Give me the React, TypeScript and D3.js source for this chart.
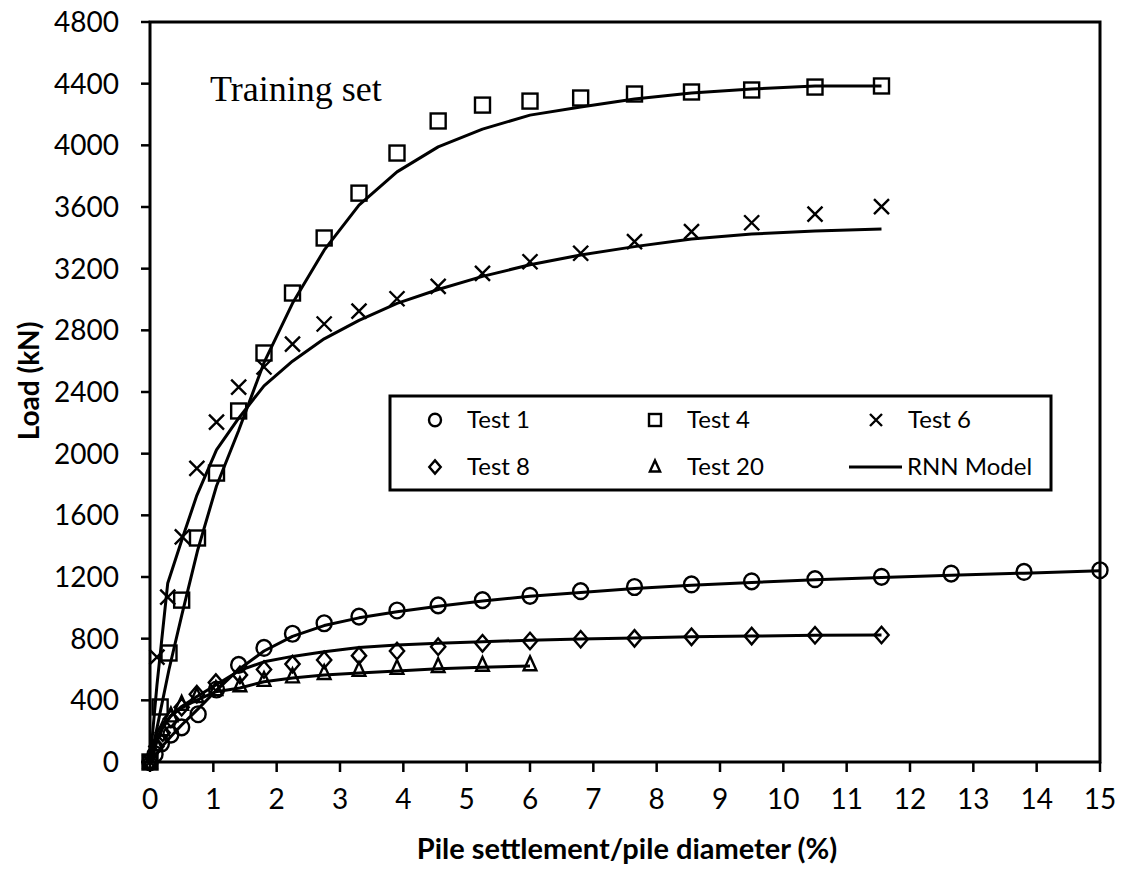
import React from "react";
import * as d3 from "d3";

const xTicks = [0, 1, 2, 3, 4, 5, 6, 7, 8, 9, 10, 11, 12, 13, 14, 15];
const yTicks = [0, 400, 800, 1200, 1600, 2000, 2400, 2800, 3200, 3600, 4000, 4400, 4800];

const test1X = [0, 0.08, 0.18, 0.33, 0.5, 0.76, 1.05, 1.4, 1.8, 2.25, 2.75, 3.3, 3.9, 4.55, 5.25, 6.0, 6.8, 7.65, 8.55, 9.5, 10.5, 11.55, 12.65, 13.8, 15];
const test1Load = [0, 50, 120, 178, 225, 310, 470, 630, 740, 832, 900, 943, 983, 1016, 1050, 1078, 1108, 1135, 1152, 1172, 1186, 1201, 1222, 1233, 1244];
const test1Model = [0, 40, 95, 165, 240, 345, 465, 600, 720, 815, 885, 935, 975, 1010, 1045, 1075, 1100, 1125, 1147, 1165, 1182, 1197, 1212, 1225, 1240];

const test4X = [0, 0.16, 0.3, 0.5, 0.75, 1.05, 1.4, 1.8, 2.25, 2.75, 3.3, 3.9, 4.55, 5.25, 6.0, 6.8, 7.65, 8.55, 9.5, 10.5, 11.55];
const test4Load = [0, 357, 707, 1050, 1453, 1874, 2277, 2653, 3042, 3399, 3690, 3950, 4158, 4261, 4287, 4307, 4333, 4346, 4359, 4378, 4385];
const test4Model = [0, 320, 600, 950, 1370, 1790, 2150, 2590, 2975, 3320, 3612, 3828, 3990, 4105, 4196, 4248, 4300, 4339, 4365, 4385, 4385];

const test6X = [0, 0.11, 0.28, 0.51, 0.74, 1.05, 1.4, 1.8, 2.25, 2.75, 3.3, 3.9, 4.55, 5.25, 6.0, 6.8, 7.65, 8.55, 9.5, 10.5, 11.55];
const test6Load = [0, 680, 1070, 1460, 1905, 2205, 2432, 2562, 2711, 2841, 2925, 3005, 3085, 3170, 3245, 3300, 3375, 3440, 3498, 3554, 3602];
const test6Model = [0, 500, 1160, 1450, 1730, 2024, 2230, 2440, 2600, 2745, 2865, 2975, 3065, 3150, 3225, 3289, 3343, 3392, 3425, 3444, 3457];

const test8X = [0, 0.1, 0.2, 0.33, 0.5, 0.74, 1.04, 1.42, 1.8, 2.25, 2.75, 3.3, 3.9, 4.55, 5.25, 6.0, 6.8, 7.65, 8.55, 9.5, 10.5, 11.55];
const test8Load = [0, 100, 190, 280, 355, 440, 515, 565, 600, 635, 662, 690, 720, 748, 770, 785, 796, 802, 812, 817, 822, 824];
const test8Model = [0, 120, 220, 300, 360, 425, 500, 595, 650, 685, 715, 742, 759, 770, 780, 790, 798, 805, 812, 817, 822, 824];

const test20X = [0, 0.1, 0.2, 0.33, 0.5, 0.74, 1.04, 1.42, 1.8, 2.25, 2.75, 3.3, 3.9, 4.55, 5.25, 6.0];
const test20Load = [0, 110, 210, 300, 375, 425, 470, 495, 530, 553, 575, 595, 608, 620, 628, 632];
const test20Model = [0, 140, 230, 300, 350, 402, 456, 480, 521, 545, 565, 578, 590, 605, 615, 623];

type Shape = "circle" | "square" | "cross" | "diamond" | "triangle";

const series: { name: string; shape: Shape; xs: number[]; load: number[]; model: number[] }[] = [
  { name: "Test 1", shape: "circle", xs: test1X, load: test1Load, model: test1Model },
  { name: "Test 4", shape: "square", xs: test4X, load: test4Load, model: test4Model },
  { name: "Test 6", shape: "cross", xs: test6X, load: test6Load, model: test6Model },
  { name: "Test 8", shape: "diamond", xs: test8X, load: test8Load, model: test8Model },
  { name: "Test 20", shape: "triangle", xs: test20X, load: test20Load, model: test20Model },
];

function Marker({ shape, cx, cy, s }: { shape: Shape; cx: number; cy: number; s: number }) {
  const h = s / 2;
  const common = { fill: "none", stroke: "#000", strokeWidth: 2.4 };
  if (shape === "circle") return <ellipse cx={cx} cy={cy} rx={h} ry={h * 1.05} {...common} />;
  if (shape === "square") return <rect x={cx - h} y={cy - h} width={s} height={s} {...common} />;
  if (shape === "cross")
    return <path d={`M${cx - h},${cy - h}L${cx + h},${cy + h}M${cx - h},${cy + h}L${cx + h},${cy - h}`} {...common} />;
  if (shape === "diamond")
    return <path d={`M${cx},${cy - h * 1.1}L${cx + h * 0.95},${cy}L${cx},${cy + h * 1.1}L${cx - h * 0.95},${cy}Z`} {...common} />;
  return <path d={`M${cx},${cy - h * 1.1}L${cx + h * 0.85},${cy + h * 0.75}L${cx - h * 0.85},${cy + h * 0.75}Z`} {...common} />;
}

export default function App() {
  const x = d3.scaleLinear().domain([0, 15]).range([150, 1100]);
  const y = d3.scaleLinear().domain([0, 4800]).range([762, 22]);
  const line = d3
    .line<[number, number]>()
    .x((d) => x(d[0]))
    .y((d) => y(d[1]))
    .curve(d3.curveLinear);

  const font = "Lato, 'Open Sans', sans-serif";

  const legendItems = [
    { name: "Test 1", shape: "circle" as Shape, lx: 435, ly: 420 },
    { name: "Test 4", shape: "square" as Shape, lx: 655, ly: 420 },
    { name: "Test 6", shape: "cross" as Shape, lx: 876, ly: 420 },
    { name: "Test 8", shape: "diamond" as Shape, lx: 435, ly: 467 },
    { name: "Test 20", shape: "triangle" as Shape, lx: 655, ly: 467 },
  ];

  return (
    <svg
      width={1124}
      height={873}
      style={{ position: "absolute", left: 0, top: 0, background: "#fff" }}
      xmlns="http://www.w3.org/2000/svg"
    >
      <rect x={0} y={0} width={1124} height={873} fill="#fff" />
      {series.map((s) => (
        <path
          key={s.name + "-model"}
          d={line(s.xs.map((v, i) => [v, s.model[i]] as [number, number])) || ""}
          fill="none"
          stroke="#000"
          strokeWidth={3}
          strokeLinejoin="round"
        />
      ))}
      {series.map((s) =>
        s.xs.map((v, i) => (
          <Marker key={s.name + i} shape={s.shape} cx={x(v)} cy={y(s.load[i])} s={15} />
        ))
      )}
      <rect x={150} y={22} width={950} height={740} fill="none" stroke="#000" strokeWidth={3} />
      {yTicks.map((t) => (
        <g key={"y" + t}>
          <line x1={141} x2={150} y1={y(t)} y2={y(t)} stroke="#000" strokeWidth={2.5} />
          <text x={119} y={y(t)} dy="0.36em" textAnchor="end" fontFamily={font} fontSize={28} fill="#000">
            {t}
          </text>
        </g>
      ))}
      {xTicks.map((t) => (
        <g key={"x" + t}>
          <line x1={x(t)} x2={x(t)} y1={762} y2={772} stroke="#000" strokeWidth={2.5} />
          <text x={x(t)} y={809} textAnchor="middle" fontFamily={font} fontSize={28} fill="#000">
            {t}
          </text>
        </g>
      ))}
      <text x={627} y={859} textAnchor="middle" fontFamily={font} fontWeight="bold" fontSize={29} fill="#000">
        Pile settlement/pile diameter (%)
      </text>
      <text
        transform="translate(39,381) rotate(-90)"
        textAnchor="middle"
        fontFamily={font}
        fontWeight="bold"
        fontSize={28}
        fill="#000"
      >
        Load (kN)
      </text>
      <text x={210} y={101} fontFamily="'Liberation Serif', 'Times New Roman', serif" fontSize={36} fill="#000">
        Training set
      </text>
      <rect x={390} y={396} width={661} height={94} fill="#fff" stroke="#000" strokeWidth={3} />
      {legendItems.map((it) => (
        <g key={"leg" + it.name}>
          <Marker shape={it.shape} cx={it.lx} cy={it.ly} s={12} />
          <text x={it.lx + 32} y={it.ly + 8} fontFamily={font} fontSize={24} fill="#000">
            {it.name}
          </text>
        </g>
      ))}
      <line x1={849} x2={902} y1={467} y2={467} stroke="#000" strokeWidth={3} />
      <text x={907} y={475} fontFamily={font} fontSize={24} fill="#000">
        RNN Model
      </text>
    </svg>
  );
}
